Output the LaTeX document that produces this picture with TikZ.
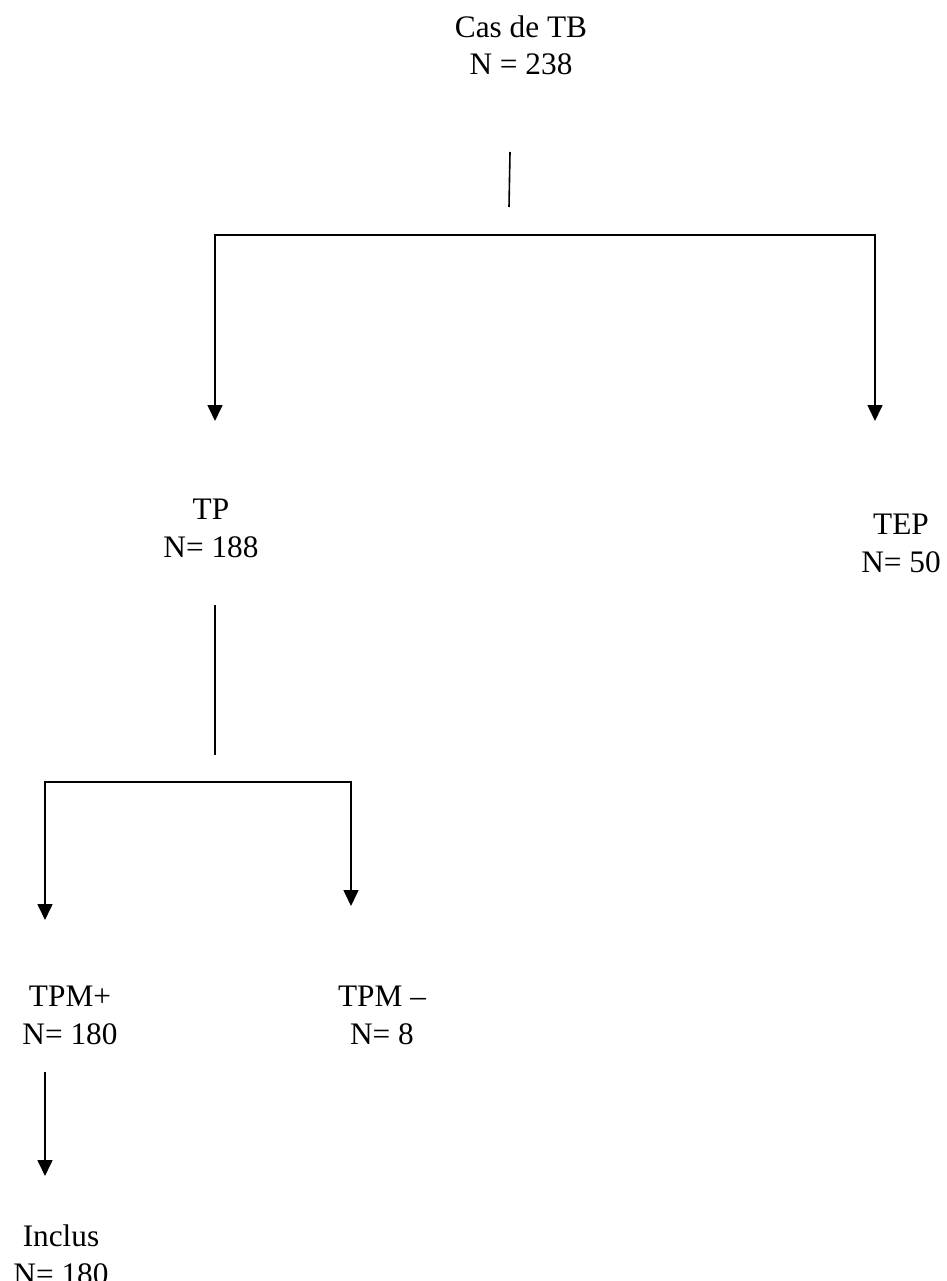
\documentclass[tikz,border=0pt]{standalone}
\usepackage{fontspec}
\setmainfont{Liberation Serif}
\usetikzlibrary{arrows.meta}
\begin{document}
\begin{tikzpicture}[x=1pt,y=-1pt,
  lbl/.style={align=center,anchor=base,inner sep=0pt,font=\fontsize{31.3}{37.5}\selectfont},
  conn/.style={line width=1.6pt,line join=miter},
  >={Triangle[length=16pt,width=15pt]}]
\useasboundingbox[fill=white] (0,0) rectangle (946,1281);
% labels (anchor = baseline of the last line)
\node[lbl] (cas) at (521,75) {Cas de TB\\N = 238};
\node[lbl] (tp) at (211,557) {TP\\N= 188};
\node[lbl] (tep) at (901,572) {TEP\\N= 50};
\node[lbl] (tpmp) at (70,1044) {TPM+\\N= 180};
\node[lbl] (tpmm) at (382,1044) {TPM --\\N= 8};
\node[lbl] (incl) at (61,1284) {Inclus\\N= 180};
% connector coordinates
\coordinate (a1) at (510,152);
\coordinate (a2) at (509,207);
\coordinate (tpEnd) at (215,421);
\coordinate (barR) at (875,235);
\coordinate (tepEnd) at (875,421);
\coordinate (b1) at (215,605);
\coordinate (b2) at (215,755);
\coordinate (pEnd) at (45,920);
\coordinate (barR2) at (351,782);
\coordinate (mEnd) at (351,906);
\coordinate (c1) at (45,1072);
\coordinate (iEnd) at (45,1176);
% connectors
\draw[conn] (a1) -- (a2);
\draw[conn,<->] (tpEnd) |- (barR) -- (tepEnd);
\draw[conn] (b1) -- (b2);
\draw[conn,<->] (pEnd) |- (barR2) -- (mEnd);
\draw[conn,->] (c1) -- (iEnd);
\end{tikzpicture}
\end{document}
